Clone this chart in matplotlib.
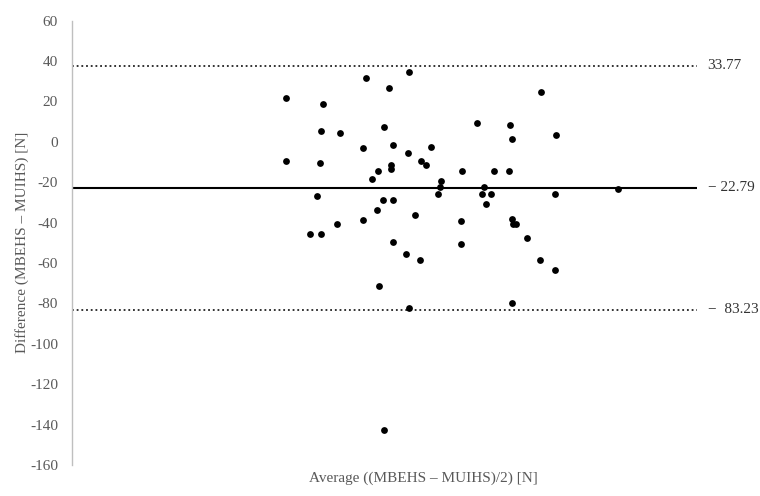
import matplotlib
matplotlib.use("Agg")
import matplotlib.pyplot as plt

# Average ((MBEHS - MUIHS)/2) [N] (arbitrary units, no x ticks shown)
avg = [214, 251, 294, 317, 337, 249, 268, 312, 291, 321, 336, 359,
       214, 248, 349, 354, 319, 319, 306, 300, 369, 368,
       469, 405, 438, 440, 484, 390, 422, 437,
       412, 546, 366, 245, 311, 321, 305, 343, 265, 291,
       238, 249, 321, 334, 348, 307, 337,
       410, 419, 483, 414, 389, 389, 440, 441, 444, 455, 468, 483, 440, 312]
# Difference (MBEHS - MUIHS) [N]
diff = [21.7, 18.7, 31.8, 26.5, 34.6, 5.5, 4.6, 7.5, -3.2, -1.4, -5.5, -2.4,
        -9.5, -10.5, -9.3, -11.6, -11.3, -13.5, -14.5, -18.4, -19.4, -22.5,
        24.5, 9.5, 8.5, 1.6, 3.6, -14.5, -14.5, -14.5,
        -22.5, -23.5, -25.6, -26.6, -28.6, -28.6, -33.6, -36.4, -40.6, -38.5,
        -45.4, -45.4, -49.4, -55.3, -58.7, -71.5, -82.4,
        -25.6, -25.6, -25.6, -30.6, -39.4, -50.5, -38.4, -40.5, -40.8,
        -47.4, -58.7, -63.6, -79.6, -142.8]

loa_values = [37.65, -22.79, -83.23]
loa_labels = ["33.77", "\u2212 22.79", "\u2212  83.23"]
loa_styles = ["dotted", "solid", "dotted"]

yticks = list(range(-160, 61, 20))

plt.rcParams["font.family"] = ["DejaVu Serif"]

fig = plt.figure(figsize=(7.6, 4.96), dpi=100)
ax = fig.add_axes([72/760, 1-465/496, 625/760, (465-20.7)/496])
ax.set_xlim(0, 625)
ax.set_ylim(-160, 60)

for v, lab, st in zip(loa_values, loa_labels, loa_styles):
    if st == "solid":
        ax.axhline(v, color="black", lw=1.5, zorder=2)
    else:
        ax.axhline(v, color="#222222", lw=1.3, linestyle=(0, (1, 1.6)), zorder=2)
    ax.text(1.017, v, lab, transform=ax.get_yaxis_transform(), ha="left",
            va="center", fontsize=11, color="#333333",
            family=["Liberation Serif", "DejaVu Serif"])

ax.scatter(avg, diff, s=24, color="black", zorder=3, linewidths=0)

ax.set_yticks(yticks)
ax.set_yticklabels([str(t) for t in yticks], family=["Liberation Serif"])
ax.set_xticks([])
ax.tick_params(axis="y", length=0, pad=10, labelsize=11, labelcolor="#595959")
for s in ["top", "right", "bottom"]:
    ax.spines[s].set_visible(False)
ax.spines["left"].set_color("#bfbfbf")
ax.spines["left"].set_linewidth(1.0)

ax.text(-0.0805, 0.5, "Difference (MBEHS \u2013 MUIHS) [N]", transform=ax.transAxes,
        rotation=90, ha="center", va="center", fontsize=11, color="#595959",
        family=["Liberation Serif"])
ax.text(0.5616, -0.029, "Average ((MBEHS \u2013 MUIHS)/2) [N]", transform=ax.transAxes,
        ha="center", va="center", fontsize=11, color="#595959",
        family=["Liberation Serif"])

fig.savefig("out.png", dpi=100)
